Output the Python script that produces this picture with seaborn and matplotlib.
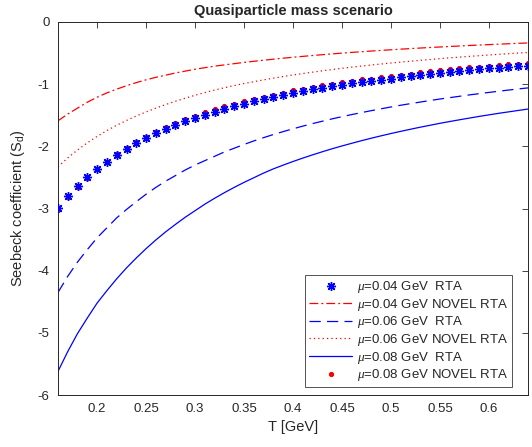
import numpy as np
import matplotlib
matplotlib.use("Agg")
import matplotlib.pyplot as plt
import seaborn as sns

# temperatura (GeV), passo 0.01
T = np.round(np.arange(0.16, 0.641, 0.01), 2)

# mu = 0.04 GeV, RTA (asterischi)
s_004_rta = [-2.99, -2.80, -2.64, -2.50, -2.37, -2.25, -2.14, -2.04, -1.95, -1.87,
             -1.79, -1.72, -1.65, -1.59, -1.54, -1.49, -1.44, -1.395, -1.355, -1.315,
             -1.275, -1.24, -1.21, -1.175, -1.14, -1.11, -1.083, -1.056, -1.033, -1.008,
             -0.983, -0.965, -0.949, -0.928, -0.910, -0.890, -0.869, -0.849, -0.830, -0.815,
             -0.799, -0.784, -0.771, -0.757, -0.745, -0.734, -0.723, -0.712, -0.702]

# mu = 0.04 GeV, NOVEL RTA
s_004_novel = [-1.59, -1.48, -1.385, -1.29, -1.21, -1.14, -1.08, -1.025, -0.975, -0.93,
               -0.89, -0.855, -0.82, -0.79, -0.76, -0.735, -0.71, -0.69, -0.67, -0.65,
               -0.632, -0.615, -0.598, -0.582, -0.567, -0.553, -0.539, -0.526, -0.513, -0.501,
               -0.489, -0.478, -0.467, -0.457, -0.447, -0.437, -0.428, -0.419, -0.410, -0.402,
               -0.394, -0.386, -0.378, -0.371, -0.364, -0.357, -0.350, -0.343, -0.337]

# mu = 0.06 GeV, RTA
s_006_rta = [-4.35, -4.09, -3.86, -3.66, -3.47, -3.31, -3.15, -3.015, -2.89, -2.77,
             -2.66, -2.56, -2.47, -2.38, -2.30, -2.23, -2.16, -2.09, -2.03, -1.97,
             -1.913, -1.86, -1.81, -1.763, -1.718, -1.675, -1.634, -1.596, -1.558, -1.523,
             -1.489, -1.457, -1.426, -1.396, -1.367, -1.339, -1.313, -1.288, -1.263, -1.239,
             -1.217, -1.195, -1.173, -1.153, -1.133, -1.114, -1.095, -1.077, -1.060]

# mu = 0.06 GeV, NOVEL RTA
s_006_novel = [-2.33, -2.186, -2.058, -1.943, -1.84, -1.746, -1.661, -1.584, -1.512, -1.447,
               -1.385, -1.328, -1.275, -1.225, -1.178, -1.135, -1.095, -1.057, -1.022, -0.99,
               -0.96, -0.931, -0.903, -0.877, -0.852, -0.829, -0.807, -0.785, -0.765, -0.745,
               -0.726, -0.709, -0.692, -0.676, -0.660, -0.645, -0.631, -0.617, -0.603, -0.590,
               -0.577, -0.565, -0.553, -0.542, -0.531, -0.520, -0.510, -0.500, -0.490]

# mu = 0.08 GeV, RTA
s_008_rta = [-5.62, -5.30, -5.01, -4.76, -4.52, -4.32, -4.13, -3.955, -3.795, -3.645,
             -3.505, -3.375, -3.255, -3.14, -3.035, -2.93, -2.835, -2.745, -2.66, -2.58,
             -2.505, -2.43, -2.362, -2.302, -2.244, -2.189, -2.137, -2.087, -2.039, -1.994,
             -1.951, -1.909, -1.869, -1.831, -1.794, -1.759, -1.725, -1.692, -1.661, -1.630,
             -1.601, -1.573, -1.546, -1.519, -1.494, -1.469, -1.446, -1.423, -1.400]

# mu = 0.08 GeV, NOVEL RTA (punti rossi)
s_008_novel = [-3.02, -2.82, -2.65, -2.505, -2.37, -2.245, -2.13, -2.03, -1.935, -1.85,
               -1.77, -1.695, -1.625, -1.56, -1.505, -1.45, -1.40, -1.355, -1.315, -1.275,
               -1.235, -1.20, -1.17, -1.135, -1.10, -1.07, -1.043, -1.016, -0.993, -0.968,
               -0.943, -0.925, -0.909, -0.888, -0.870, -0.850, -0.829, -0.809, -0.790, -0.775,
               -0.759, -0.744, -0.731, -0.717, -0.705, -0.694, -0.683, -0.672, -0.662]

sns.set_style("white")
plt.rcParams['font.family'] = ['Liberation Sans', 'DejaVu Sans']
plt.rcParams['mathtext.fontset'] = 'custom'
plt.rcParams['mathtext.it'] = 'Liberation Serif:italic'
plt.rcParams['mathtext.rm'] = 'Liberation Sans'

dark = '#262626'
fig = plt.figure(figsize=(5.32, 4.47), dpi=100)
ax = fig.add_axes([0.109, 0.1163, 0.8835, 0.8345])

sns.lineplot(x=T, y=s_004_rta, ax=ax, color='blue', linestyle='', marker=(8, 2, 0),
             markersize=6.5, markeredgewidth=1.0, markeredgecolor='blue', zorder=4,
             label=r'$\mu$=0.04 GeV  RTA')
sns.lineplot(x=T, y=s_004_novel, ax=ax, color='red', linewidth=0.9, dashes=(7, 2.5, 1.5, 2.5),
             label=r'$\mu$=0.04 GeV NOVEL RTA')
sns.lineplot(x=T, y=s_006_rta, ax=ax, color='blue', linewidth=0.9, dashes=(9, 5),
             label=r'$\mu$=0.06 GeV  RTA')
sns.lineplot(x=T, y=s_006_novel, ax=ax, color='red', linewidth=0.9, dashes=(1, 2.5),
             label=r'$\mu$=0.06 GeV NOVEL RTA')
sns.lineplot(x=T, y=s_008_rta, ax=ax, color='blue', linewidth=0.9, linestyle='-',
             label=r'$\mu$=0.08 GeV  RTA')
sns.lineplot(x=T, y=s_008_novel, ax=ax, color='red', linestyle='', marker='.',
             markersize=6, markeredgecolor='red', zorder=3,
             label=r'$\mu$=0.08 GeV NOVEL RTA')

ax.set_xlim(0.16, 0.64)
ax.set_ylim(-6, 0)
ax.set_xticks([0.2, 0.25, 0.3, 0.35, 0.4, 0.45, 0.5, 0.55, 0.6])
ax.set_xticklabels(['0.2', '0.25', '0.3', '0.35', '0.4', '0.45', '0.5', '0.55', '0.6'])
ax.set_yticks([-6, -5, -4, -3, -2, -1, 0])
ax.set_yticklabels(['-6', '-5', '-4', '-3', '-2', '-1', '0'])
ax.tick_params(direction='in', length=4, width=0.6, colors=dark, labelsize=9.5,
               top=True, right=True, pad=6)
for sp in ax.spines.values():
    sp.set_color(dark)
    sp.set_linewidth(0.7)

ax.set_xlabel('T [GeV]', fontsize=10.5, color=dark, labelpad=3)
ax.set_ylabel('Seebeck coefficient (S$_\\mathrm{d}$)', fontsize=10.5, color=dark, labelpad=8)
ax.set_title('Quasiparticle mass scenario', fontsize=10.5, fontweight='bold', pad=5)

leg = ax.legend(loc='lower right', bbox_to_anchor=(0.966, 0.021), borderaxespad=0,
                fontsize=9.5, handlelength=3.2, frameon=True, fancybox=False,
                borderpad=0.3, labelspacing=0.12, handletextpad=0.4)
leg.get_frame().set_edgecolor(dark)
leg.get_frame().set_linewidth(0.7)

fig.savefig('out.png', dpi=100)
